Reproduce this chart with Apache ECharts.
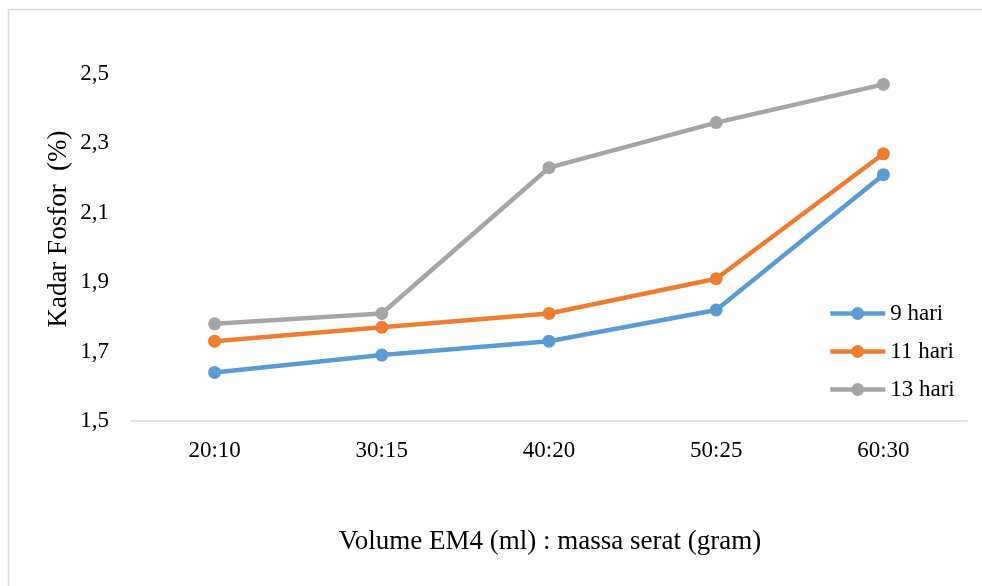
<!DOCTYPE html>
<html><head><meta charset="utf-8">
<script src="https://cdn.jsdelivr.net/npm/echarts@6/dist/echarts.min.js"></script>
<style>html,body{margin:0;padding:0;background:#fff}#c{width:982px;height:586px}</style>
</head><body><div id="c"></div>
<script>
var categories = ['20:10','30:15','40:20','50:25','60:30'];
var hari9 = [1.64, 1.69, 1.73, 1.82, 2.21];
var hari11 = [1.73, 1.77, 1.81, 1.91, 2.27];
var hari13 = [1.78, 1.81, 2.23, 2.36, 2.47];
var seriesNames = ['9 hari','11 hari','13 hari'];
var colors = ['#5b9bd5','#ed7d31','#a5a5a5'];
var font = 'Liberation Serif, Times New Roman, serif';
var chart = echarts.init(document.getElementById('c'));
function mk(name, data, color){
  return {name:name, type:'line', data:data, symbol:'circle', symbolSize:13,
    lineStyle:{width:4.5,color:color}, itemStyle:{color:color}, animation:false};
}
chart.setOption({
  animation:false,
  grid:{left:131, right:15, top:74, bottom:165},
  graphic:[
    {type:'rect', shape:{x:8.5,y:9.5,width:1000,height:1000}, style:{fill:null, stroke:'#d9d9d9', lineWidth:1.5}, silent:true},
    {type:'text', x:59, y:229, rotation:Math.PI/2, style:{text:'Kadar Fosfor  (%)', font:'27px '+font, fill:'#000', align:'center', verticalAlign:'middle'}},
    {type:'text', x:550, y:542, style:{text:'Volume EM4 (ml) : massa serat (gram)', font:'27px '+font, fill:'#000', align:'center', verticalAlign:'middle'}}
  ],
  legend:{orient:'vertical', left:828, top:302, padding:0, itemGap:15, itemWidth:55, itemHeight:16,
    lineStyle:{width:4.5},
    textStyle:{fontFamily:font, fontSize:23, lineHeight:23, color:'#000'},
    data:seriesNames},
  xAxis:{type:'category', data:categories, boundaryGap:true,
    axisLine:{lineStyle:{color:'#d9d9d9', width:1.5}}, axisTick:{show:false},
    axisLabel:{fontFamily:font, fontSize:23, color:'#000', margin:18}},
  yAxis:{type:'value', min:1.5, max:2.5, interval:0.2,
    axisLine:{show:false}, axisTick:{show:false}, splitLine:{show:false},
    axisLabel:{fontFamily:font, fontSize:23, color:'#000', margin:22,
      formatter:function(v){return v.toFixed(1).replace('.',',');}}},
  series:[mk(seriesNames[0],hari9,colors[0]), mk(seriesNames[1],hari11,colors[1]), mk(seriesNames[2],hari13,colors[2])]
});
</script></body></html>
